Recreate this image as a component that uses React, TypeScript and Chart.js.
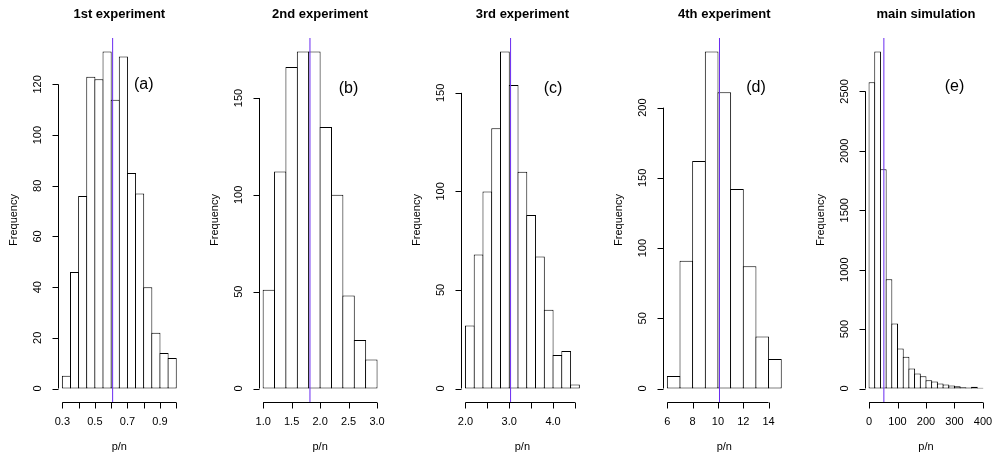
import React, { useEffect, useRef } from 'react';
import { Chart, registerables } from 'chart.js';

Chart.register(...registerables);

// ---------- data ----------
const panelTitles = ['1st experiment', '2nd experiment', '3rd experiment', '4th experiment', 'main simulation'];
const panelTags = ['(a)', '(b)', '(c)', '(d)', '(e)'];
const tagX = [0.8, 2.5, 4.0, 13, 300];
const tagY = [120, 155, 152, 214, 2540];

const binStarts = [0.3, 1.0, 2.0, 6, 0];
const binWidths = [0.05, 0.2, 0.2, 1, 20];

const counts1 = [5, 46, 76, 123, 122, 133, 114, 131, 85, 77, 40, 22, 14, 12];
const counts2 = [51, 112, 166, 174, 174, 135, 100, 48, 25, 15];
const counts3 = [32, 68, 100, 132, 171, 154, 110, 88, 67, 40, 17, 19, 2];
const counts4 = [9, 91, 162, 240, 211, 142, 87, 37, 21];
const counts5 = [2578, 2836, 1845, 920, 548, 337, 267, 169, 126, 104, 70, 59, 42, 34, 25, 20, 11, 8, 14, 6];
const allCounts = [counts1, counts2, counts3, counts4, counts5];

const meanLines = [0.609, 1.822, 3.03, 10.12, 52];

const xTicks1 = [0.3, 0.4, 0.5, 0.6, 0.7, 0.8, 0.9, 1.0];
const xLabels1 = ['0.3', '', '0.5', '', '0.7', '', '0.9', ''];
const xTicks2 = [1.0, 1.5, 2.0, 2.5, 3.0];
const xLabels2 = ['1.0', '1.5', '2.0', '2.5', '3.0'];
const xTicks3 = [2.0, 2.5, 3.0, 3.5, 4.0, 4.5];
const xLabels3 = ['2.0', '', '3.0', '', '4.0', ''];
const xTicks4 = [6, 8, 10, 12, 14];
const xLabels4 = ['6', '8', '10', '12', '14'];
const xTicks5 = [0, 100, 200, 300, 400];
const xLabels5 = ['0', '100', '200', '300', '400'];
const allXTicks = [xTicks1, xTicks2, xTicks3, xTicks4, xTicks5];
const allXLabels = [xLabels1, xLabels2, xLabels3, xLabels4, xLabels5];

const yTicks1 = [0, 20, 40, 60, 80, 100, 120];
const yTicks2 = [0, 50, 100, 150];
const yTicks3 = [0, 50, 100, 150];
const yTicks4 = [0, 50, 100, 150, 200];
const yTicks5 = [0, 500, 1000, 1500, 2000, 2500];
const allYTicks = [yTicks1, yTicks2, yTicks3, yTicks4, yTicks5];

const xAxisTitle = 'p/n';
const yAxisTitle = 'Frequency';

// ---------- layout / style ----------
const plotLefts = [57.8, 258.6, 460.9, 662.8, 864.5];
const PLOT_W = 123;
const PLOT_TOP = 38;
const PLOT_BOTTOM = 402;
const CANVAS_W = 200;
const CANVAS_H = 455;
const FONT = '"Liberation Sans", Arial, Helvetica, sans-serif';
const LINE_COLOR = '#6a2bf0';

function makePlugin(idx: number) {
  return {
    id: 'rstyle' + idx,
    afterDraw(chart: any) {
      const { ctx, chartArea: a, scales } = chart;
      const x = scales.x;
      const y = scales.y;
      ctx.save();

      // vertical reference line
      const mx = x.getPixelForValue(meanLines[idx]);
      ctx.strokeStyle = LINE_COLOR;
      ctx.lineWidth = 1;
      ctx.beginPath();
      ctx.moveTo(mx, a.top);
      ctx.lineTo(mx, a.bottom);
      ctx.stroke();

      ctx.strokeStyle = '#000';
      ctx.fillStyle = '#000';
      ctx.lineWidth = 1;

      // y axis
      const yt = allYTicks[idx];
      const ax = Math.round(a.left) + 0.5;
      ctx.beginPath();
      ctx.moveTo(ax, y.getPixelForValue(yt[0]));
      ctx.lineTo(ax, y.getPixelForValue(yt[yt.length - 1]));
      yt.forEach((v) => {
        const py = Math.round(y.getPixelForValue(v)) + 0.5;
        ctx.moveTo(ax, py);
        ctx.lineTo(ax - 6, py);
      });
      ctx.stroke();

      ctx.font = '11px ' + FONT;
      ctx.textAlign = 'center';
      ctx.textBaseline = 'middle';
      yt.forEach((v) => {
        const py = y.getPixelForValue(v);
        ctx.save();
        ctx.translate(a.left - 19.5, py);
        ctx.rotate(-Math.PI / 2);
        ctx.fillText(String(v), 0, 0);
        ctx.restore();
      });

      // x axis
      const xt = allXTicks[idx];
      const xl = allXLabels[idx];
      const ay = Math.round(a.bottom) + 0.5;
      ctx.beginPath();
      ctx.moveTo(x.getPixelForValue(xt[0]), ay);
      ctx.lineTo(x.getPixelForValue(xt[xt.length - 1]), ay);
      xt.forEach((v) => {
        const px = Math.round(x.getPixelForValue(v)) + 0.5;
        ctx.moveTo(px, ay);
        ctx.lineTo(px, ay + 6);
      });
      ctx.stroke();
      xt.forEach((v, i) => {
        if (xl[i]) ctx.fillText(xl[i], x.getPixelForValue(v), a.bottom + 19.5);
      });

      // axis titles
      const cx = (a.left + a.right) / 2;
      ctx.fillText(xAxisTitle, cx, a.bottom + 45);
      ctx.save();
      ctx.translate(a.left - 44, (a.top + a.bottom) / 2);
      ctx.rotate(-Math.PI / 2);
      ctx.fillText(yAxisTitle, 0, 0);
      ctx.restore();

      // main title
      ctx.font = 'bold 13px ' + FONT;
      ctx.fillText(panelTitles[idx], cx, 14);

      // panel tag
      ctx.font = '16px ' + FONT;
      ctx.fillText(panelTags[idx], x.getPixelForValue(tagX[idx]), y.getPixelForValue(tagY[idx]));

      ctx.restore();
    },
  };
}

function Panel({ idx }: { idx: number }) {
  const ref = useRef<HTMLCanvasElement | null>(null);
  const canvasLeft = Math.round(plotLefts[idx] - 58);
  const padLeft = plotLefts[idx] - canvasLeft;
  const padRight = CANVAS_W - padLeft - PLOT_W;

  useEffect(() => {
    if (!ref.current) return;
    const counts = allCounts[idx];
    const start = binStarts[idx];
    const w = binWidths[idx];
    const data = counts.map((c, i) => ({ x: start + w * (i + 0.5), y: c }));
    const xMin = start;
    const xMax = start + w * counts.length;
    const xr = xMax - xMin;
    const yMax = Math.max(...counts);
    const binPx = (w / (xr * 1.08)) * PLOT_W;

    const chart = new Chart(ref.current, {
      type: 'bar',
      data: {
        datasets: [
          {
            data,
            backgroundColor: '#ffffff',
            borderColor: '#000000',
            borderWidth: 1,
            borderSkipped: false,
            barThickness: binPx + 1,
            inflateAmount: 0,
          } as any,
        ],
      },
      options: {
        responsive: false,
        animation: false,
        layout: { padding: { left: padLeft, right: padRight, top: PLOT_TOP, bottom: CANVAS_H - PLOT_BOTTOM } },
        plugins: { legend: { display: false }, tooltip: { enabled: false }, title: { display: false } },
        scales: {
          x: { type: 'linear', display: false, offset: false, min: xMin - 0.04 * xr, max: xMax + 0.04 * xr },
          y: { type: 'linear', display: false, min: -0.04 * yMax, max: 1.04 * yMax },
        },
      } as any,
      plugins: [makePlugin(idx)],
    });
    return () => chart.destroy();
  }, []);

  return (
    <canvas
      ref={ref}
      width={CANVAS_W}
      height={CANVAS_H}
      style={{ position: 'absolute', left: canvasLeft, top: 0, width: CANVAS_W, height: CANVAS_H }}
    />
  );
}

export default function App() {
  return (
    <div
      style={{
        position: 'fixed',
        left: 0,
        top: 0,
        width: 992,
        height: 455,
        overflow: 'hidden',
        background: '#ffffff',
      }}
    >
      {[0, 1, 2, 3, 4].map((i) => (
        <Panel key={i} idx={i} />
      ))}
    </div>
  );
}
